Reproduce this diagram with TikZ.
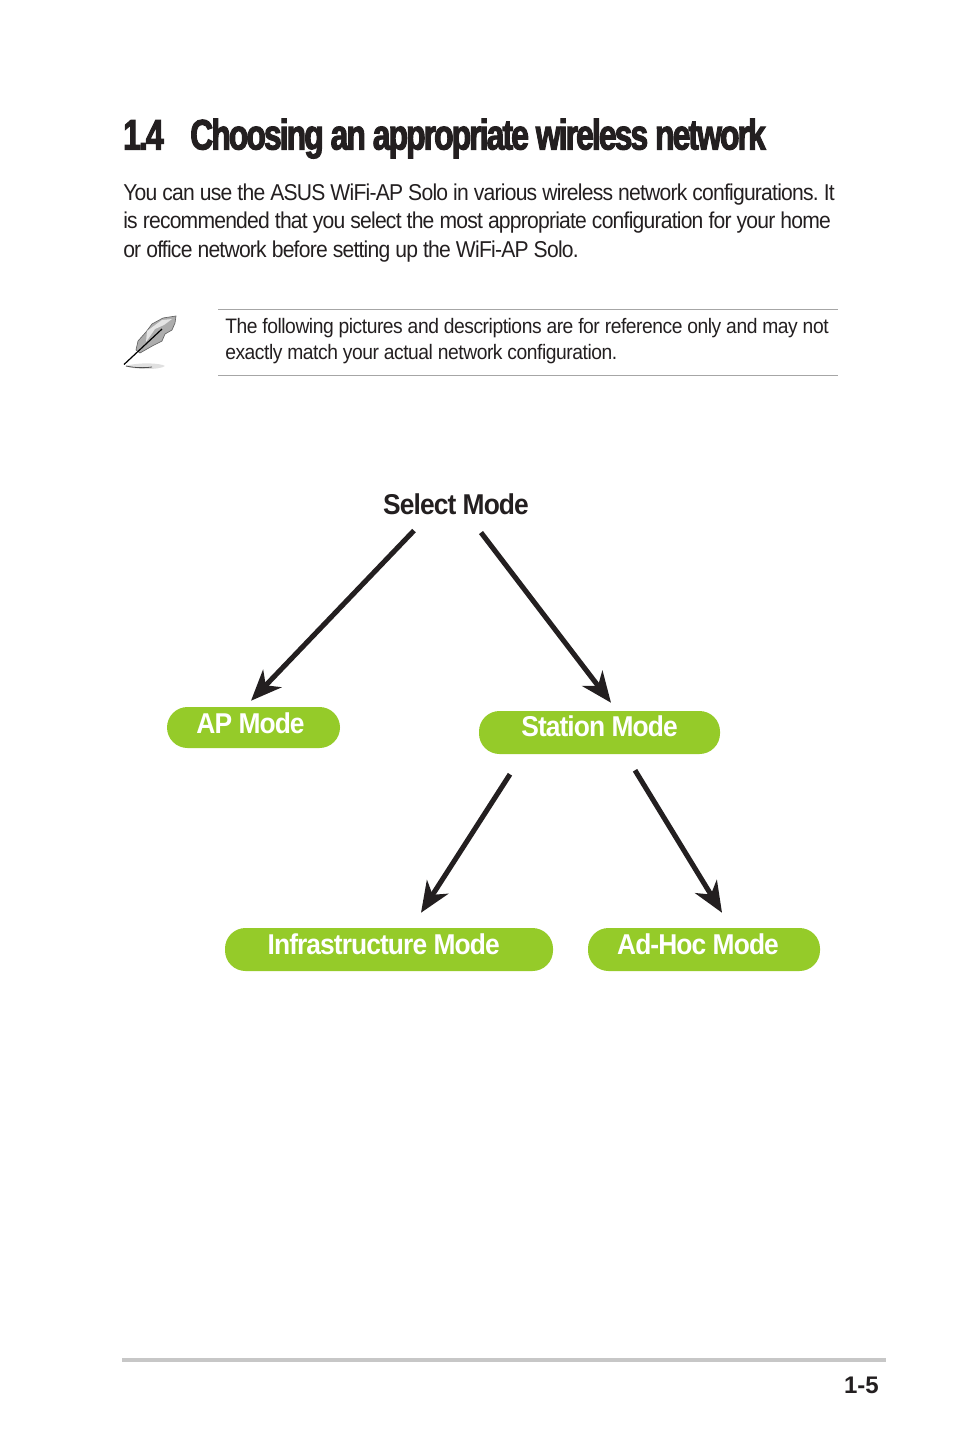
\documentclass[tikz,border=0pt]{standalone}
\usepackage{fontspec}
\usetikzlibrary{arrows.meta}
\setmainfont{Liberation Sans}
\newfontfamily\headfont[FakeStretch=0.745,FakeBold=2.5,LetterSpace=-4.4]{Liberation Sans Bold}
\newfontfamily\bodyfont[FakeStretch=0.92,LetterSpace=-3.4]{Liberation Sans}
\newfontfamily\notefont[FakeStretch=0.92,LetterSpace=-2.17]{Liberation Sans}
\newfontfamily\modefont[FakeStretch=0.92,LetterSpace=-3.2]{Liberation Sans Bold}
\newfontfamily\pagefont{Liberation Sans Bold}
\definecolor{pillgreen}{RGB}{149,203,41}
\definecolor{arrowink}{RGB}{35,31,32}
\newcommand{\pilltext}[3]{\raisebox{#2}{\hspace*{#1}#3}}
\frenchspacing
\tikzset{
  headline/.style={anchor=base west,inner sep=0pt,font=\headfont\fontsize{32}{35}\selectfont,text=arrowink},
  bodyline/.style={anchor=base west,inner sep=0pt,font=\bodyfont\fontsize{17.2}{20}\selectfont,text=arrowink},
  noteline/.style={anchor=base west,inner sep=0pt,font=\notefont\fontsize{15.7}{18}\selectfont,text=arrowink},
  pillbox/.style={fill=pillgreen,rounded corners=20.5*0.75pt,inner sep=0pt,text=white,font=\modefont\fontsize{21.5}{24}\selectfont},
  modearrow/.style={draw=arrowink,line width=3.8pt,-{Stealth[length=23pt,width=19pt,inset=7pt]}},
  thinrule/.style={draw=black!35,line width=0.6pt},
}
\begin{document}
\begin{tikzpicture}[x=0.75pt,y=0.75pt,yscale=-1]
\useasboundingbox (0,0) rectangle (954,1438);

%Heading
\node[headline] (headnum) at (123,149.5) {1.4};
\node[headline] (headtitle) at (190,149.5) {Choosing an appropriate wireless network};

%Intro text
\node[bodyline] (introa) at (123,200) {You can use the ASUS WiFi-AP Solo in various wireless network configurations. It};
\node[bodyline] (introb) at (123,228) {is recommended that you select the most appropriate configuration for your home};
\node[bodyline] (introc) at (123,257) {or office network before setting up the WiFi-AP Solo.};

%Note
\draw[thinrule] (218,309.5) -- (838,309.5);
\draw[thinrule] (218,375.5) -- (838,375.5);
\node[noteline] (notea) at (225,333) {The following pictures and descriptions are for reference only and may not};
\node[noteline] (noteb) at (225,359) {exactly match your actual network configuration.};

%Shape: Feather
\fill[black!12] (125,366) .. controls (140,362) and (160,363) .. (165,366) .. controls (160,370) and (135,370) .. (125,366) -- cycle;
\draw[black!70,line width=0.6pt] (126,366) .. controls (135,368) and (145,368) .. (152,367);
\draw[black!60,fill=black!32,line width=0.5pt] (136,350) -- (138,341) -- (146,332) -- (152,324) -- (163,318) -- (176,316) -- (175,323) -- (172,330) -- (165,334) -- (162,341) -- (154,345) -- (147,349) -- (140,353) -- cycle;
\fill[black!10] (147,331) -- (162,320) -- (172,319) -- (164,325) -- (155,329) -- (146,342) -- cycle;
\draw[black,line width=0.9pt] (124,364.5) -- (162,329);

%Select Mode
\node[anchor=base,inner sep=0pt,font=\modefont\fontsize{21.5}{24}\selectfont,text=arrowink] (select) at (456,514) {Select Mode};

%Mode pills
\node[pillbox,minimum width=173*0.75pt,minimum height=41*0.75pt] (ap) at (253.5,727.5) {\pilltext{-4.5pt}{6.7pt}{AP Mode}};
\node[pillbox,minimum width=241*0.75pt,minimum height=43*0.75pt] (station) at (599.5,732.5) {\pilltext{0pt}{8.9pt}{Station Mode}};
\node[pillbox,minimum width=328*0.75pt,minimum height=43*0.75pt] (infra) at (389,949.5) {\pilltext{-8pt}{7.5pt}{Infrastructure Mode}};
\node[pillbox,minimum width=232*0.75pt,minimum height=43*0.75pt] (adhoc) at (704,949.5) {\pilltext{-9pt}{7.5pt}{Ad-Hoc Mode}};

%Arrows
\draw[modearrow] ([shift={(-42,16)}]select.south) -- ([shift={(-2.5,-6)}]ap.north);
\draw[modearrow] ([shift={(25,18)}]select.south) -- ([shift={(11.5,-8)}]station.north);
\draw[modearrow] ([shift={(-89.5,20)}]station.south) -- ([shift={(32,-15)}]infra.north);
\draw[modearrow] ([shift={(35.5,16)}]station.south) -- ([shift={(18,-15)}]adhoc.north);

%Footer
\draw[black!22,line width=2.4pt] (122,1360) -- (886,1360);
\node[anchor=base east,inner sep=0pt,font=\pagefont\fontsize{18}{20}\selectfont,text=arrowink] (pagenum) at (879,1393) {1-5};
\end{tikzpicture}
\end{document}
